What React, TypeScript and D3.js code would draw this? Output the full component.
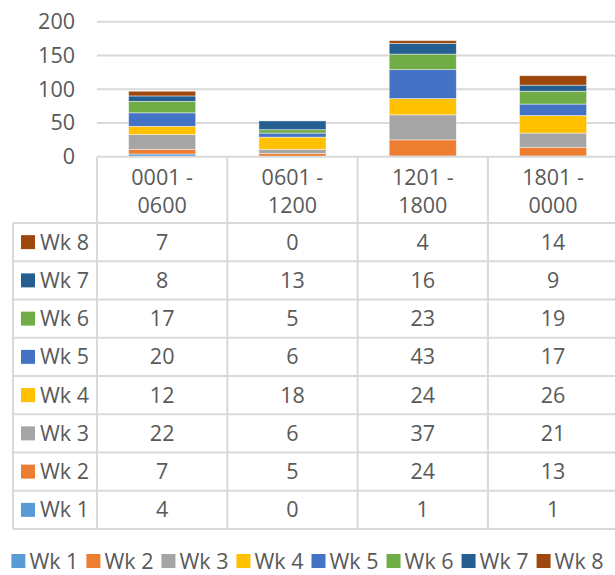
import React, { useEffect, useRef } from 'react';
import * as d3 from 'd3';

const categories = ['0001 - 0600', '0601 - 1200', '1201 - 1800', '1801 - 0000'];
const seriesNames = ['Wk 1', 'Wk 2', 'Wk 3', 'Wk 4', 'Wk 5', 'Wk 6', 'Wk 7', 'Wk 8'];
const wk1 = [4, 0, 1, 1];
const wk2 = [7, 5, 24, 13];
const wk3 = [22, 6, 37, 21];
const wk4 = [12, 18, 24, 26];
const wk5 = [20, 6, 43, 17];
const wk6 = [17, 5, 23, 19];
const wk7 = [8, 13, 16, 9];
const wk8 = [7, 0, 4, 14];
const seriesValues = [wk1, wk2, wk3, wk4, wk5, wk6, wk7, wk8];
const colors = ['#5B9BD5', '#ED7D31', '#A5A5A5', '#FFC000', '#4472C4', '#70AD47', '#255E91', '#9E480E'];
const yTicks = [0, 50, 100, 150, 200];

const width = 615;
const height = 575;
const FONT = '"Open Sans", sans-serif';
const FS = 21.5;
const TEXT = '#595959';
const GRID = '#D9D9D9';

const App: React.FC = () => {
  const svgRef = useRef<SVGSVGElement>(null);

  useEffect(() => {
    document.body.style.margin = '0';
    const svg = d3.select(svgRef.current);
    svg.selectAll('*').remove();

    const plotLeft = 97;
    const colW = 130.3;
    const plotRight = plotLeft + colW * categories.length;
    const tableLeft = 13;
    const headerTop = 156.7;
    const headerBottom = 223;
    const rowH = 38.25;

    const x = d3.scaleBand<string>()
      .domain(categories)
      .range([plotLeft, plotRight])
      .paddingInner(0.485)
      .paddingOuter(0.2425);

    const y = d3.scaleLinear().domain([0, 200]).range([156.7, 21.7]);

    // Gridlines
    svg.append('g')
      .selectAll('line')
      .data(yTicks.filter(t => t > 0))
      .enter()
      .append('line')
      .attr('x1', plotLeft)
      .attr('x2', plotRight)
      .attr('y1', d => y(d))
      .attr('y2', d => y(d))
      .attr('stroke', GRID)
      .attr('stroke-width', 2);

    // Y labels
    svg.append('g')
      .selectAll('text')
      .data(yTicks)
      .enter()
      .append('text')
      .attr('x', 75)
      .attr('y', d => y(d))
      .attr('dy', '0.35em')
      .attr('text-anchor', 'end')
      .attr('font-family', FONT)
      .attr('font-size', FS)
      .attr('fill', TEXT)
      .text(d => d);

    // Stacked bars
    const table = categories.map((c, i) => {
      const row: Record<string, number | string> = { cat: c };
      seriesNames.forEach((s, j) => { row[s] = seriesValues[j][i]; });
      return row;
    });
    const stacked = d3.stack<Record<string, number | string>>()
      .keys(seriesNames)
      .value((d, key) => d[key] as number)(table);

    svg.append('g')
      .selectAll('g')
      .data(stacked)
      .enter()
      .append('g')
      .attr('fill', (_, i) => colors[i])
      .selectAll('rect')
      .data(d => d.filter(p => p[1] - p[0] > 0))
      .enter()
      .append('rect')
      .attr('x', d => x(d.data.cat as string) || 0)
      .attr('width', x.bandwidth())
      .attr('y', d => y(d[1]))
      .attr('height', d => y(d[0]) - y(d[1]))
      .attr('stroke', '#ffffff')
      .attr('stroke-opacity', 0.6)
      .attr('stroke-width', 0.75);

    // Data table lines
    const tableBottom = headerBottom + rowH * seriesNames.length;
    const lines = svg.append('g')
      .attr('stroke', GRID)
      .attr('stroke-width', 2);
    // axis line / table top
    lines.append('line')
      .attr('x1', plotLeft).attr('x2', plotRight)
      .attr('y1', headerTop).attr('y2', headerTop);
    // horizontal row lines
    d3.range(seriesNames.length + 1).forEach(i => {
      const yy = headerBottom + rowH * i;
      lines.append('line')
        .attr('x1', tableLeft).attr('x2', plotRight)
        .attr('y1', yy).attr('y2', yy);
    });
    // left border
    lines.append('line')
      .attr('x1', tableLeft).attr('x2', tableLeft)
      .attr('y1', headerBottom).attr('y2', tableBottom);
    // column lines
    d3.range(categories.length + 1).forEach(i => {
      const xx = plotLeft + colW * i;
      lines.append('line')
        .attr('x1', xx).attr('x2', xx)
        .attr('y1', headerTop).attr('y2', tableBottom);
    });

    const colCenter = (i: number) => plotLeft + colW * (i + 0.5);

    // Category headers (two lines)
    categories.forEach((c, i) => {
      const parts = c.split(' - ');
      const t = svg.append('text')
        .attr('text-anchor', 'middle')
        .attr('font-family', FONT)
        .attr('font-size', FS)
        .attr('fill', TEXT);
      t.append('tspan').attr('x', colCenter(i)).attr('y', 177).attr('dy', '0.35em').text(parts[0] + ' -');
      t.append('tspan').attr('x', colCenter(i)).attr('y', 205).attr('dy', '0.35em').text(parts[1]);
    });

    // Rows, Wk 8 on top
    const rowOrder = d3.range(seriesNames.length).reverse();
    rowOrder.forEach((s, r) => {
      const cy = headerBottom + rowH * (r + 0.5);
      svg.append('rect')
        .attr('x', 21).attr('y', cy - 7)
        .attr('width', 14).attr('height', 14)
        .attr('fill', colors[s]);
      svg.append('text')
        .attr('x', 40).attr('y', cy).attr('dy', '0.35em')
        .attr('font-family', FONT).attr('font-size', FS)
        .attr('fill', TEXT)
        .text(seriesNames[s]);
      seriesValues[s].forEach((v, i) => {
        svg.append('text')
          .attr('x', colCenter(i)).attr('y', cy).attr('dy', '0.35em')
          .attr('text-anchor', 'middle')
          .attr('font-family', FONT).attr('font-size', FS)
          .attr('fill', TEXT)
          .text(v);
      });
    });

    // Legend
    const legend = svg.append('g');
    const items = legend.selectAll('g')
      .data(seriesNames)
      .enter()
      .append('g');
    items.append('rect')
      .attr('width', 14).attr('height', 14)
      .attr('y', -7)
      .attr('fill', (_, i) => colors[i]);
    items.append('text')
      .attr('x', 18).attr('dy', '0.35em')
      .attr('font-family', FONT).attr('font-size', FS)
      .attr('fill', TEXT)
      .text(d => d);
    const gap = 8;
    let cursor = 0;
    items.each(function () {
      const g = d3.select(this);
      const tw = (g.select('text').node() as SVGTextElement).getComputedTextLength();
      g.attr('transform', `translate(${cursor},0)`);
      cursor += 18 + tw + gap;
    });
    const total = cursor - gap;
    legend.attr('transform', `translate(${(width - total) / 2},561)`);
  }, []);

  return <svg ref={svgRef} width={width} height={height} style={{ display: 'block', background: '#fff' }} />;
};

export default App;
